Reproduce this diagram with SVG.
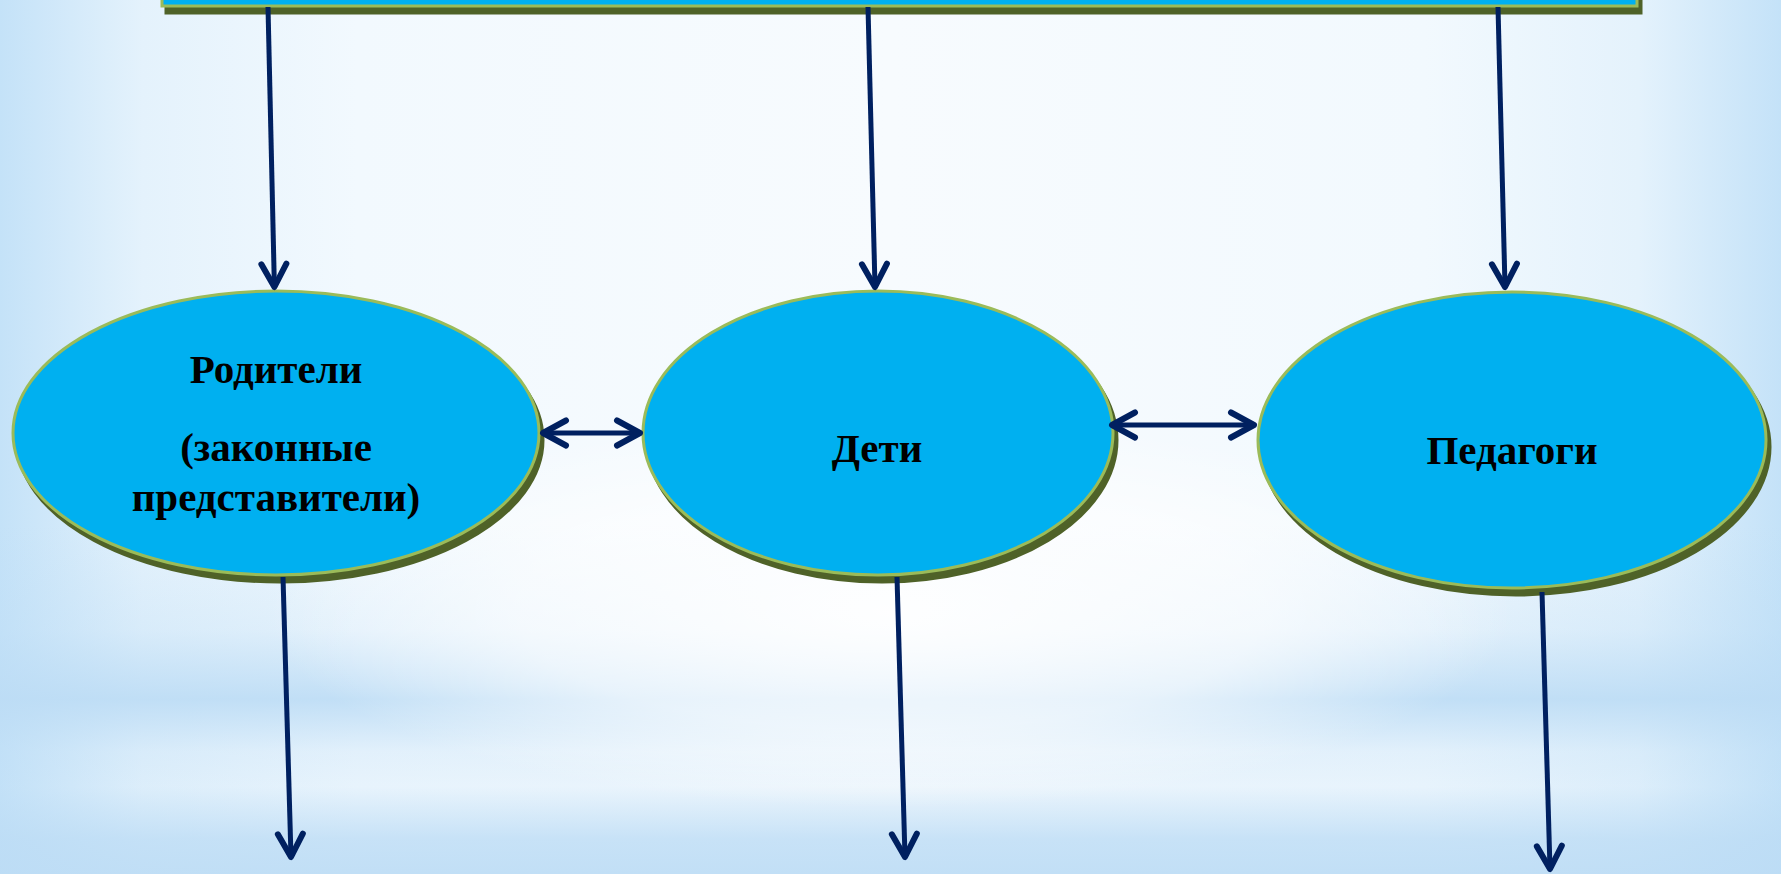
<svg xmlns="http://www.w3.org/2000/svg" width="1781" height="874" viewBox="0 0 1781 874">
<style>
.node{fill:#00b0f0;stroke:#9bbb59;stroke-width:3}
.shadow{fill:#4f6228;stroke:#4f6228;stroke-width:3}
.lbl{font-family:"Liberation Serif","Times New Roman",serif;font-weight:bold;font-size:41px;fill:#000;text-anchor:middle}
.conn{stroke:#002060;stroke-width:5;fill:none}
</style>
<defs>
<linearGradient id="bgH" x1="0" y1="0" x2="1" y2="0">
<stop offset="0" stop-color="#c4e2f8"/>
<stop offset="0.08" stop-color="#e4f2fc"/>
<stop offset="0.2" stop-color="#f2f9fe"/>
<stop offset="0.5" stop-color="#f7fbfe"/>
<stop offset="0.8" stop-color="#f2f9fe"/>
<stop offset="0.92" stop-color="#e4f2fc"/>
<stop offset="1" stop-color="#c4e2f8"/>
</linearGradient>
<linearGradient id="bands" x1="0" y1="0" x2="0" y2="1">
<stop offset="0" stop-color="#bcdcf5" stop-opacity="0"/>
<stop offset="0.6" stop-color="#bcdcf5" stop-opacity="0"/>
<stop offset="0.72" stop-color="#bcdcf5" stop-opacity="0.3"/>
<stop offset="0.8" stop-color="#bcdcf5" stop-opacity="0.9"/>
<stop offset="0.86" stop-color="#bcdcf5" stop-opacity="0.3"/>
<stop offset="0.9" stop-color="#bcdcf5" stop-opacity="0.2"/>
<stop offset="0.96" stop-color="#bcdcf5" stop-opacity="0.8"/>
<stop offset="1" stop-color="#bcdcf5" stop-opacity="0.9"/>
</linearGradient>
<radialGradient id="glow" cx="0.5" cy="0.7" r="0.5" gradientTransform="translate(0.5 0.7) scale(0.7 0.45) translate(-0.5 -0.7)">
<stop offset="0" stop-color="#ffffff" stop-opacity="0.95"/>
<stop offset="0.6" stop-color="#ffffff" stop-opacity="0.6"/>
<stop offset="1" stop-color="#ffffff" stop-opacity="0"/>
</radialGradient>
<marker id="arr" viewBox="-30 -18 34 36" refX="0" refY="0" markerWidth="34" markerHeight="36" markerUnits="userSpaceOnUse" orient="auto-start-reverse">
<path d="M-23,-12.5 L0,0 L-23,12.5" fill="none" stroke="#002060" stroke-width="6" stroke-linecap="round" stroke-linejoin="round"/>
</marker>
</defs>
<g id="background">
<rect x="0" y="0" width="1781" height="874" fill="url(#bgH)"/>
<rect x="0" y="0" width="1781" height="874" fill="url(#bands)"/>
<rect x="0" y="0" width="1781" height="874" fill="url(#glow)"/>
</g>
<g id="top-box">
<rect class="shadow" x="166" y="-20" width="1475" height="33"/>
<rect class="node" x="162" y="-27" width="1475" height="33"/>
</g>
<g id="node-parents">
<ellipse class="shadow" cx="280" cy="440" rx="263" ry="142"/>
<ellipse class="node" cx="276" cy="433" rx="263" ry="142"/>
<text class="lbl" x="276" y="383">Родители</text>
<text class="lbl" x="276" y="461">(законные</text>
<text class="lbl" x="276" y="511">представители)</text>
</g>
<g id="node-children">
<ellipse class="shadow" cx="882" cy="440" rx="235" ry="142"/>
<ellipse class="node" cx="878" cy="433" rx="235" ry="142"/>
<text class="lbl" x="877" y="462">Дети</text>
</g>
<g id="node-teachers">
<ellipse class="shadow" cx="1516" cy="447" rx="254" ry="148"/>
<ellipse class="node" cx="1512" cy="440" rx="254" ry="148"/>
<text class="lbl" x="1512" y="464">Педагоги</text>
</g>
<g id="connectors">
<line class="conn" x1="268" y1="7" x2="274.4" y2="287" marker-end="url(#arr)"/>
<line class="conn" x1="868" y1="7" x2="875" y2="287" marker-end="url(#arr)"/>
<line class="conn" x1="1498" y1="7" x2="1505" y2="287" marker-end="url(#arr)"/>
<line class="conn" x1="543" y1="433" x2="640" y2="433" marker-start="url(#arr)" marker-end="url(#arr)"/>
<line class="conn" x1="1112" y1="425" x2="1254" y2="425" marker-start="url(#arr)" marker-end="url(#arr)"/>
<line class="conn" x1="283" y1="577" x2="291" y2="857" marker-end="url(#arr)"/>
<line class="conn" x1="897" y1="577" x2="905" y2="857" marker-end="url(#arr)"/>
<line class="conn" x1="1542" y1="592" x2="1550" y2="869" marker-end="url(#arr)"/>
</g>
</svg>
